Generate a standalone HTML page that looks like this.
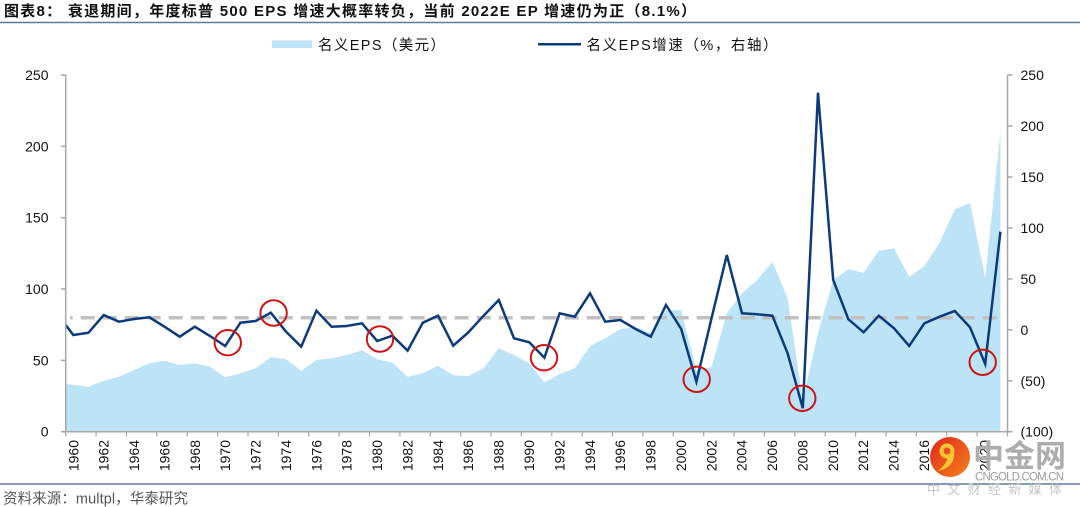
<!DOCTYPE html>
<html><head><meta charset="utf-8">
<style>
html,body{margin:0;padding:0;background:#fff;}
svg{display:block;}
text{font-family:"Liberation Sans","Noto Sans CJK SC",sans-serif;fill:#111;}
</style></head><body>
<svg width="1080" height="507" viewBox="0 0 1080 507" xmlns="http://www.w3.org/2000/svg">
<defs>
<linearGradient id="lg" x1="0" y1="0" x2="1" y2="1">
<stop offset="0" stop-color="#e0261c"/><stop offset="1" stop-color="#f4821c"/>
</linearGradient>
</defs>
<rect width="1080" height="507" fill="#fff"/>

<!-- Title -->
<text x="4" y="16" font-size="15" font-weight="bold" textLength="692" lengthAdjust="spacing">图表8：  衰退期间，年度标普 500 EPS 增速大概率转负，当前 2022E EP 增速仍为正（8.1%）</text>
<line x1="0" y1="22.5" x2="1080" y2="22.5" stroke="#5b7aa3" stroke-width="1.6"/>

<!-- Legend -->
<rect x="272" y="40.5" width="40" height="7.5" fill="#bde3f7"/>
<text x="318" y="50" font-size="14.5" textLength="127" lengthAdjust="spacing">名义EPS（美元）</text>
<line x1="538" y1="44.3" x2="581" y2="44.3" stroke="#0d3b7a" stroke-width="2.5"/>
<text x="586.5" y="50" font-size="14.5" textLength="191" lengthAdjust="spacing">名义EPS增速（%，右轴）</text>

<!-- Area -->
<polygon fill="#bde3f7" points="65.7,431.7 65.7,384 73.3,384.7 88.5,386.7 103.7,380.7 118.9,376.7 134.1,370 149.3,363.3 164.5,360.7 179.7,365 194.8,363.3 210,366.7 225.2,377.3 240.4,373.3 255.6,368.3 270.8,357.3 286,359.3 301.2,370.7 316.4,360 331.6,358.3 346.8,355 362,350.3 377.2,359.3 392.4,362.7 407.6,376.7 422.8,373.3 438,365.7 453.2,375.3 468.4,376 483.6,368.3 498.8,348.3 514,355 529.2,363.3 544.4,382.3 559.6,374 574.8,368.3 590,346 605.2,338.3 620.4,329 635.6,327.3 650.8,333 666,310.5 681.2,310 696.4,370 711.6,367 726.8,313.3 742,293.3 757.2,280 772.4,261.7 787.6,298.3 802.8,400 818,333 833.2,280 848.4,269.3 863.6,272.7 878.8,250.7 894,248.3 909.2,276.7 924.4,266 939.6,242.7 954.8,209.3 970,202.7 985.2,278.3 1000.4,131.7 1000.4,431.7"/>

<!-- Dashed average line -->
<line x1="70" y1="317.7" x2="1004" y2="317.7" stroke="#c0c0c0" stroke-width="3.5" stroke-dasharray="14 8" stroke-dashoffset="11.3"/>

<!-- Growth line -->
<polyline fill="none" stroke="#0d3b7a" stroke-width="2.5" stroke-linejoin="miter" points="65.7,325 73.3,335 88.5,332.7 103.7,315 118.9,321.7 134.1,319 149.3,317.3 164.5,326.7 179.7,336.7 194.8,326.7 210,336 225.2,346 240.4,322.7 255.6,321 270.8,312.7 286,331.7 301.2,346.7 316.4,310.7 331.6,326.7 346.8,326 362,323.3 377.2,341 392.4,335.7 407.6,350.7 422.8,322.7 438,315.7 453.2,345.7 468.4,332.3 483.6,315.7 498.8,300 514,338.3 529.2,342.3 544.4,357.7 559.6,313.3 574.8,316.7 590,293.3 605.2,321.7 620.4,320 635.6,329 650.8,336.7 666,305 681.2,329 696.4,381.7 711.6,318 726.8,255 742,313.3 757.2,314.3 772.4,315.7 787.6,353.3 802.8,408.3 818,92.7 833.2,280 848.4,319.3 863.6,332.3 878.8,315.7 894,328.3 909.2,346 924.4,323.3 939.6,316.7 954.8,311 970,327.3 985.2,364 1000.4,231.7"/>

<!-- Red circles -->
<g fill="none" stroke="#cc1414" stroke-width="2">
<ellipse cx="227.8" cy="342.7" rx="13.2" ry="12.7"/>
<ellipse cx="273.6" cy="313" rx="13.2" ry="12.7"/>
<ellipse cx="380" cy="339" rx="13.2" ry="12.7"/>
<ellipse cx="544" cy="357.7" rx="13.2" ry="12.7"/>
<ellipse cx="696.7" cy="379.3" rx="13.2" ry="12.7"/>
<ellipse cx="802.3" cy="398.3" rx="13.2" ry="12.7"/>
<ellipse cx="982.7" cy="362.3" rx="13.2" ry="12.7"/>
</g>

<!-- Axes -->
<g stroke="#a6a6a6" stroke-width="1.5">
<line x1="65.7" y1="75" x2="65.7" y2="431.7"/>
<line x1="1007.5" y1="75" x2="1007.5" y2="431.7"/>
<line x1="65.7" y1="431.7" x2="1007.5" y2="431.7"/>
<line x1="61" y1="75" x2="65.7" y2="75"/>
<line x1="61" y1="146.3" x2="65.7" y2="146.3"/>
<line x1="61" y1="217.7" x2="65.7" y2="217.7"/>
<line x1="61" y1="289" x2="65.7" y2="289"/>
<line x1="61" y1="360.4" x2="65.7" y2="360.4"/>
<line x1="61" y1="431.7" x2="65.7" y2="431.7"/>
<line x1="1007.5" y1="75" x2="1012.5" y2="75"/>
<line x1="1007.5" y1="126" x2="1012.5" y2="126"/>
<line x1="1007.5" y1="177" x2="1012.5" y2="177"/>
<line x1="1007.5" y1="228" x2="1012.5" y2="228"/>
<line x1="1007.5" y1="278.9" x2="1012.5" y2="278.9"/>
<line x1="1007.5" y1="329.8" x2="1012.5" y2="329.8"/>
<line x1="1007.5" y1="380.8" x2="1012.5" y2="380.8"/>
<line x1="1007.5" y1="431.7" x2="1012.5" y2="431.7"/>
</g>
<g stroke="#a6a6a6" stroke-width="1.2">
<line x1="65.7" y1="431.7" x2="65.7" y2="436.5"/>
<line x1="96.1" y1="431.7" x2="96.1" y2="436.5"/>
<line x1="126.5" y1="431.7" x2="126.5" y2="436.5"/>
<line x1="156.8" y1="431.7" x2="156.8" y2="436.5"/>
<line x1="187.2" y1="431.7" x2="187.2" y2="436.5"/>
<line x1="217.6" y1="431.7" x2="217.6" y2="436.5"/>
<line x1="248" y1="431.7" x2="248" y2="436.5"/>
<line x1="278.4" y1="431.7" x2="278.4" y2="436.5"/>
<line x1="308.7" y1="431.7" x2="308.7" y2="436.5"/>
<line x1="339.1" y1="431.7" x2="339.1" y2="436.5"/>
<line x1="369.5" y1="431.7" x2="369.5" y2="436.5"/>
<line x1="399.9" y1="431.7" x2="399.9" y2="436.5"/>
<line x1="430.3" y1="431.7" x2="430.3" y2="436.5"/>
<line x1="460.6" y1="431.7" x2="460.6" y2="436.5"/>
<line x1="491" y1="431.7" x2="491" y2="436.5"/>
<line x1="521.4" y1="431.7" x2="521.4" y2="436.5"/>
<line x1="551.8" y1="431.7" x2="551.8" y2="436.5"/>
<line x1="582.2" y1="431.7" x2="582.2" y2="436.5"/>
<line x1="612.5" y1="431.7" x2="612.5" y2="436.5"/>
<line x1="642.9" y1="431.7" x2="642.9" y2="436.5"/>
<line x1="673.3" y1="431.7" x2="673.3" y2="436.5"/>
<line x1="703.7" y1="431.7" x2="703.7" y2="436.5"/>
<line x1="734.1" y1="431.7" x2="734.1" y2="436.5"/>
<line x1="764.4" y1="431.7" x2="764.4" y2="436.5"/>
<line x1="794.8" y1="431.7" x2="794.8" y2="436.5"/>
<line x1="825.2" y1="431.7" x2="825.2" y2="436.5"/>
<line x1="855.6" y1="431.7" x2="855.6" y2="436.5"/>
<line x1="886" y1="431.7" x2="886" y2="436.5"/>
<line x1="916.3" y1="431.7" x2="916.3" y2="436.5"/>
<line x1="946.7" y1="431.7" x2="946.7" y2="436.5"/>
<line x1="977.1" y1="431.7" x2="977.1" y2="436.5"/>
<line x1="1007.5" y1="431.7" x2="1007.5" y2="436.5"/>
</g>

<!-- Left axis labels -->
<g font-size="14" text-anchor="end">
<text x="48.5" y="80">250</text>
<text x="48.5" y="151.3">200</text>
<text x="48.5" y="222.7">150</text>
<text x="48.5" y="294">100</text>
<text x="48.5" y="365.4">50</text>
<text x="48.5" y="436.7">0</text>
</g>
<!-- Right axis labels -->
<g font-size="14">
<text x="1020.5" y="80">250</text>
<text x="1020.5" y="131">200</text>
<text x="1020.5" y="182">150</text>
<text x="1020.5" y="233">100</text>
<text x="1020.5" y="283.9">50</text>
<text x="1020.5" y="334.8">0</text>
<text x="1020.5" y="385.8">(50)</text>
<text x="1020.5" y="436.7">(100)</text>
</g>

<!-- X labels -->
<g font-size="14" text-anchor="end">
<text transform="translate(73.3,440) rotate(-90)" y="5">1960</text>
<text transform="translate(103.7,440) rotate(-90)" y="5">1962</text>
<text transform="translate(134.1,440) rotate(-90)" y="5">1964</text>
<text transform="translate(164.4,440) rotate(-90)" y="5">1966</text>
<text transform="translate(194.8,440) rotate(-90)" y="5">1968</text>
<text transform="translate(225.2,440) rotate(-90)" y="5">1970</text>
<text transform="translate(255.6,440) rotate(-90)" y="5">1972</text>
<text transform="translate(286,440) rotate(-90)" y="5">1974</text>
<text transform="translate(316.3,440) rotate(-90)" y="5">1976</text>
<text transform="translate(346.7,440) rotate(-90)" y="5">1978</text>
<text transform="translate(377.1,440) rotate(-90)" y="5">1980</text>
<text transform="translate(407.5,440) rotate(-90)" y="5">1982</text>
<text transform="translate(437.9,440) rotate(-90)" y="5">1984</text>
<text transform="translate(468.2,440) rotate(-90)" y="5">1986</text>
<text transform="translate(498.6,440) rotate(-90)" y="5">1988</text>
<text transform="translate(529,440) rotate(-90)" y="5">1990</text>
<text transform="translate(559.4,440) rotate(-90)" y="5">1992</text>
<text transform="translate(589.8,440) rotate(-90)" y="5">1994</text>
<text transform="translate(620.1,440) rotate(-90)" y="5">1996</text>
<text transform="translate(650.5,440) rotate(-90)" y="5">1998</text>
<text transform="translate(680.9,440) rotate(-90)" y="5">2000</text>
<text transform="translate(711.3,440) rotate(-90)" y="5">2002</text>
<text transform="translate(741.7,440) rotate(-90)" y="5">2004</text>
<text transform="translate(772,440) rotate(-90)" y="5">2006</text>
<text transform="translate(802.4,440) rotate(-90)" y="5">2008</text>
<text transform="translate(832.8,440) rotate(-90)" y="5">2010</text>
<text transform="translate(863.2,440) rotate(-90)" y="5">2012</text>
<text transform="translate(893.6,440) rotate(-90)" y="5">2014</text>
<text transform="translate(923.9,440) rotate(-90)" y="5">2016</text>
<text transform="translate(954.3,440) rotate(-90)" y="5">2018</text>
<text transform="translate(984.7,440) rotate(-90)" y="5">2020</text>
</g>

<!-- Bottom separator and source -->
<line x1="0" y1="484" x2="1080" y2="484" stroke="#5b7aa3" stroke-width="1.4"/>
<text x="3" y="503.5" font-size="14.5" fill="#555" style="fill:#555" textLength="185" lengthAdjust="spacing">资料来源：multpl，华泰研究</text>

<!-- Watermark -->
<text x="973" y="467" font-size="31" font-weight="bold" style="fill:#adadad" textLength="93" lengthAdjust="spacing">中金网</text>
<text x="975" y="480.5" font-size="11.5" style="fill:#9c9c9c" textLength="89" lengthAdjust="spacing">CNGOLD.COM.CN</text>
<text x="927" y="494" font-size="13" style="fill:#c6c6c6" textLength="135" lengthAdjust="spacing">中文财经新媒体</text>
<circle cx="950" cy="457" r="20" fill="url(#lg)"/>
<circle cx="947" cy="451" r="7.5" fill="#f8c533"/>
<circle cx="947" cy="451" r="3.5" fill="#e8501c"/>
<path d="M954,452 C955,463 948,469 938,471 C944,466 947,462 948,456 Z" fill="#f8c533"/>
</svg>
</body></html>
